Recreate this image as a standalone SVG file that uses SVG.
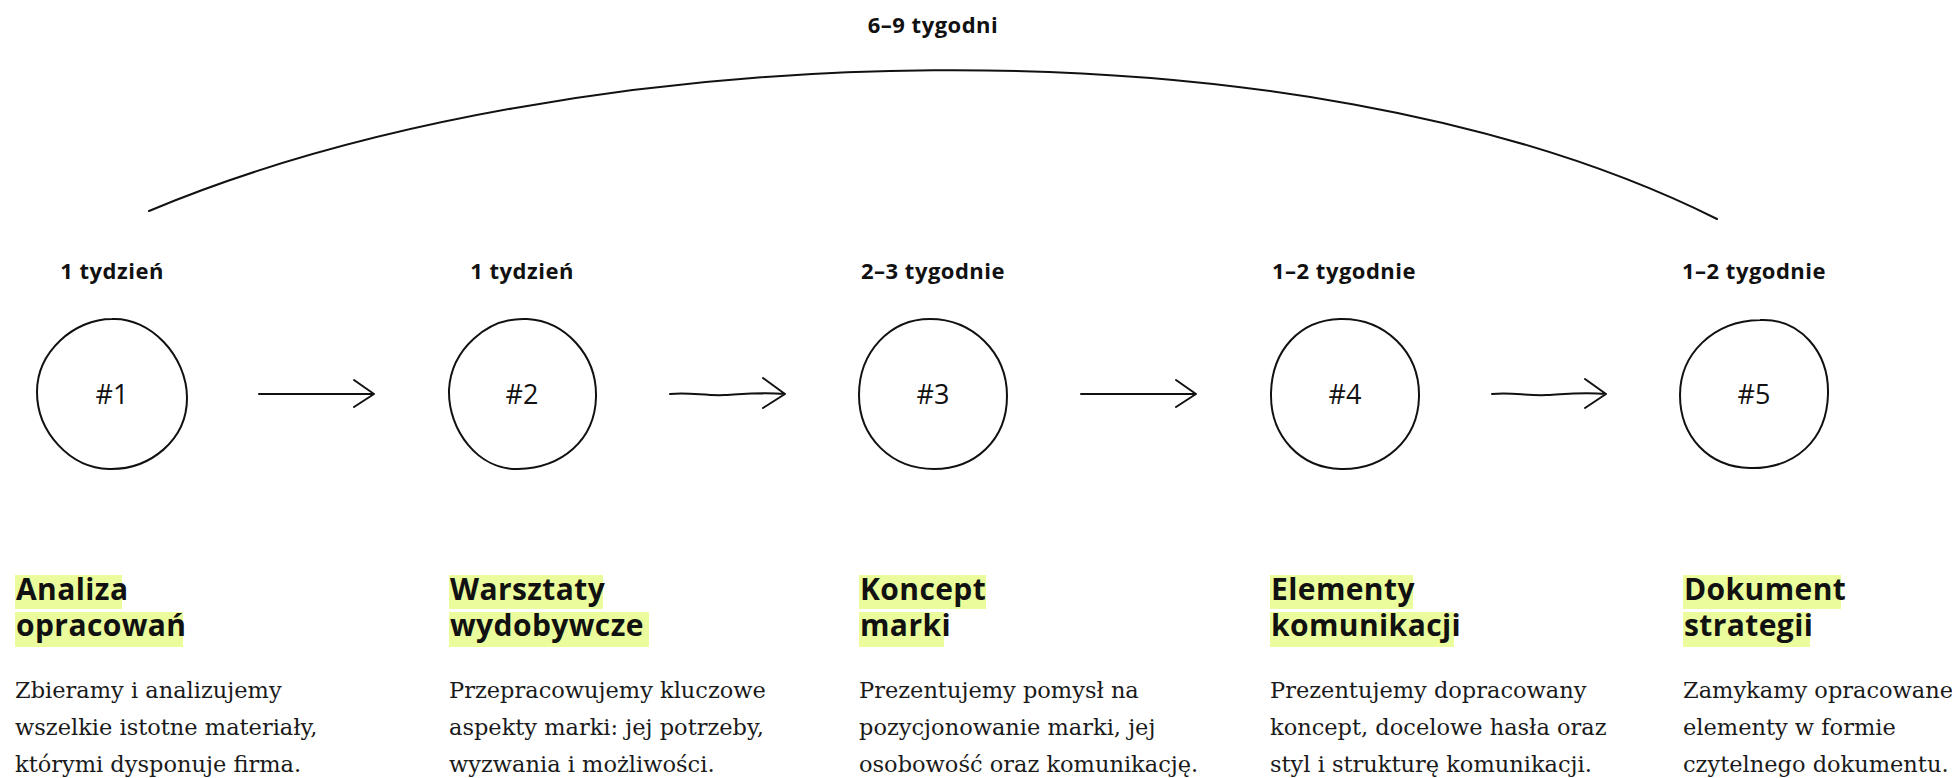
<svg xmlns="http://www.w3.org/2000/svg" width="1952" height="778" viewBox="0 0 1952 778">
<style>
.dur{font-family:"Open Sans","Noto Sans",sans-serif;font-weight:700;font-size:22px;letter-spacing:0.5px;fill:#111;text-anchor:middle}
.num{font-family:"Open Sans","Noto Sans",sans-serif;font-weight:400;font-size:27px;fill:#111;text-anchor:middle}
.blob{fill:none;stroke:#111;stroke-width:2;stroke-linejoin:round}
.hl{fill:#eafc9c}
.head{font-family:"Open Sans","Noto Sans",sans-serif;font-weight:700;font-size:30px;letter-spacing:0.4px;fill:#111}
.body{font-family:"DejaVu Serif","Liberation Serif",serif;font-size:22.5px;fill:#1a1a1a}
.conn{fill:none;stroke:#111;stroke-width:2;stroke-linecap:round;stroke-linejoin:round}
</style>
<rect width="1952" height="778" fill="#fff"/>

<g id="total">
<text class="dur" x="933" y="33">6–9 tygodni</text>
</g>

<g id="connectors">
<path class="conn" d="M149,211 C569,35 1297,9 1717,219" stroke-width="2.2"/>
<path class="conn" d="M259,394 L374,394 M354,380 L374,394 L354,407"/>
<path class="conn" d="M670,394 C690,392 705,396 725,395 C745,394 760,392 785,394 M763,378 L785,394 L763,408"/>
<path class="conn" d="M1081,394 L1196,394 M1176,380 L1196,394 L1176,407"/>
<path class="conn" d="M1492,394 C1512,392 1527,396 1547,395 C1567,394 1582,392 1606,394 M1585,379 L1606,394 L1585,408"/>
</g>

<g id="node1">
<text class="dur" x="112" y="279">1 tydzień</text>
<path class="blob" d="M112,319 C150,317 187,356 187,398 C187,440 150,470 109,469 C70,468 37,432 37,392 C37,352 74,319 112,319 Z"/>
<text class="num" x="112" y="404">#1</text>
<rect class="hl" x="15" y="575" width="107" height="34"/>
<rect class="hl" x="15" y="612" width="168" height="35"/>
<text class="head" x="16" y="600">Analiza</text>
<text class="head" x="16" y="636">opracowań</text>
<text class="body" x="15" y="698">Zbieramy i analizujemy</text>
<text class="body" x="15" y="735">wszelkie istotne materiały,</text>
<text class="body" x="15" y="772">którymi dysponuje firma.</text>
</g>

<g id="node2">
<text class="dur" x="522" y="279">1 tydzień</text>
<path class="blob" d="M527,319 C565,321 597,355 596,397 C595,440 562,468 518,469 C478,470 448,430 449,390 C451,350 487,317 527,319 Z"/>
<text class="num" x="522" y="404">#2</text>
<rect class="hl" x="449" y="575" width="154" height="34"/>
<rect class="hl" x="449" y="612" width="200" height="35"/>
<text class="head" x="450" y="600">Warsztaty</text>
<text class="head" x="450" y="636">wydobywcze</text>
<text class="body" x="449" y="698">Przepracowujemy kluczowe</text>
<text class="body" x="449" y="735">aspekty marki: jej potrzeby,</text>
<text class="body" x="449" y="772">wyzwania i możliwości.</text>
</g>

<g id="node3">
<text class="dur" x="933" y="279">2–3 tygodnie</text>
<path class="blob" d="M930,319 C972,319 1007,352 1007,396 C1007,440 975,469 934,469 C892,469 859,438 859,395 C859,352 890,319 930,319 Z"/>
<text class="num" x="933" y="404">#3</text>
<rect class="hl" x="859" y="575" width="127" height="34"/>
<rect class="hl" x="859" y="612" width="85" height="35"/>
<text class="head" x="860" y="600">Koncept</text>
<text class="head" x="860" y="636">marki</text>
<text class="body" x="859" y="698">Prezentujemy pomysł na</text>
<text class="body" x="859" y="735">pozycjonowanie marki, jej</text>
<text class="body" x="859" y="772">osobowość oraz komunikację.</text>
</g>

<g id="node4">
<text class="dur" x="1344" y="279">1–2 tygodnie</text>
<path class="blob" d="M1340,319 C1385,318 1420,352 1419,397 C1418,440 1384,470 1341,469 C1300,468 1270,436 1271,393 C1272,350 1300,320 1340,319 Z"/>
<text class="num" x="1345" y="404">#4</text>
<rect class="hl" x="1270" y="575" width="143" height="34"/>
<rect class="hl" x="1270" y="612" width="184" height="35"/>
<text class="head" x="1271" y="600">Elementy</text>
<text class="head" x="1271" y="636">komunikacji</text>
<text class="body" x="1270" y="698">Prezentujemy dopracowany</text>
<text class="body" x="1270" y="735">koncept, docelowe hasła oraz</text>
<text class="body" x="1270" y="772">styl i strukturę komunikacji.</text>
</g>

<g id="node5">
<text class="dur" x="1754" y="279">1–2 tygodnie</text>
<path class="blob" d="M1760,320 C1800,318 1829,352 1828,394 C1827,440 1795,469 1750,468 C1708,467 1680,436 1680,395 C1680,355 1712,321 1760,320 Z"/>
<text class="num" x="1754" y="404">#5</text>
<rect class="hl" x="1683" y="575" width="158" height="34"/>
<rect class="hl" x="1683" y="612" width="127" height="35"/>
<text class="head" x="1684" y="600">Dokument</text>
<text class="head" x="1684" y="636">strategii</text>
<text class="body" x="1683" y="698">Zamykamy opracowane</text>
<text class="body" x="1683" y="735">elementy w formie</text>
<text class="body" x="1683" y="772">czytelnego dokumentu.</text>
</g>
</svg>
